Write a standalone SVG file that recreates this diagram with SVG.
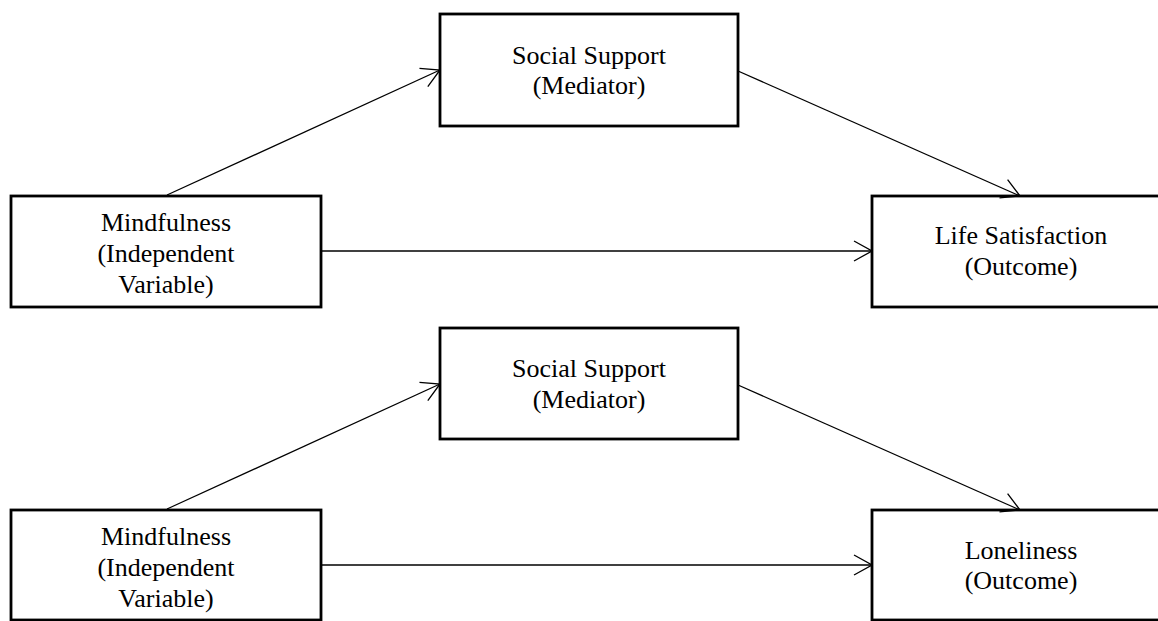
<svg xmlns="http://www.w3.org/2000/svg" width="1158" height="621" viewBox="0 0 1158 621">
  <style>
    .box { fill: #ffffff; stroke: #000000; stroke-width: 2.8; }
    .lbl { font-family: "Liberation Serif", "Times New Roman", serif; font-size: 26px; fill: #000000; text-anchor: middle; }
    .conn { stroke: #000000; stroke-width: 1.3; fill: none; marker-end: url(#arrow); }
  </style>
  <defs>
    <marker id="arrow" markerUnits="userSpaceOnUse" viewBox="-1 -1 20 22" refX="18" refY="10" markerWidth="20" markerHeight="22" orient="auto">
      <path d="M0,0 L18,10 L0,20" fill="none" stroke="#000000" stroke-width="1.3"/>
    </marker>
  </defs>
  <rect width="1158" height="621" fill="#ffffff"/>

  <g id="mindfulness-1">
    <rect class="box" x="11" y="196" width="310" height="111"/>
    <text class="lbl" x="166" y="231">Mindfulness</text>
    <text class="lbl" x="166" y="262">(Independent</text>
    <text class="lbl" x="166" y="293">Variable)</text>
  </g>
  <g id="social-support-1">
    <rect class="box" x="440" y="14" width="298" height="112"/>
    <text class="lbl" x="589" y="64">Social Support</text>
    <text class="lbl" x="589" y="94">(Mediator)</text>
  </g>
  <g id="life-satisfaction">
    <rect class="box" x="872" y="196" width="298" height="111"/>
    <text class="lbl" x="1021" y="244">Life Satisfaction</text>
    <text class="lbl" x="1021" y="275">(Outcome)</text>
  </g>

  <g id="mindfulness-2">
    <rect class="box" x="11" y="510" width="310" height="110"/>
    <text class="lbl" x="166" y="545">Mindfulness</text>
    <text class="lbl" x="166" y="576">(Independent</text>
    <text class="lbl" x="166" y="607">Variable)</text>
  </g>
  <g id="social-support-2">
    <rect class="box" x="440" y="328" width="298" height="111"/>
    <text class="lbl" x="589" y="377">Social Support</text>
    <text class="lbl" x="589" y="408">(Mediator)</text>
  </g>
  <g id="loneliness">
    <rect class="box" x="872" y="510" width="298" height="110"/>
    <text class="lbl" x="1021" y="559">Loneliness</text>
    <text class="lbl" x="1021" y="589">(Outcome)</text>
  </g>

  <g id="connectors">
    <line class="conn" x1="167" y1="195" x2="440" y2="70"/>
    <line class="conn" x1="738" y1="71" x2="1020" y2="196"/>
    <line class="conn" x1="321" y1="251" x2="872" y2="251"/>
    <line class="conn" x1="167" y1="509" x2="440" y2="384"/>
    <line class="conn" x1="738" y1="385" x2="1020" y2="510"/>
    <line class="conn" x1="321" y1="565" x2="872" y2="565"/>
  </g>
</svg>
